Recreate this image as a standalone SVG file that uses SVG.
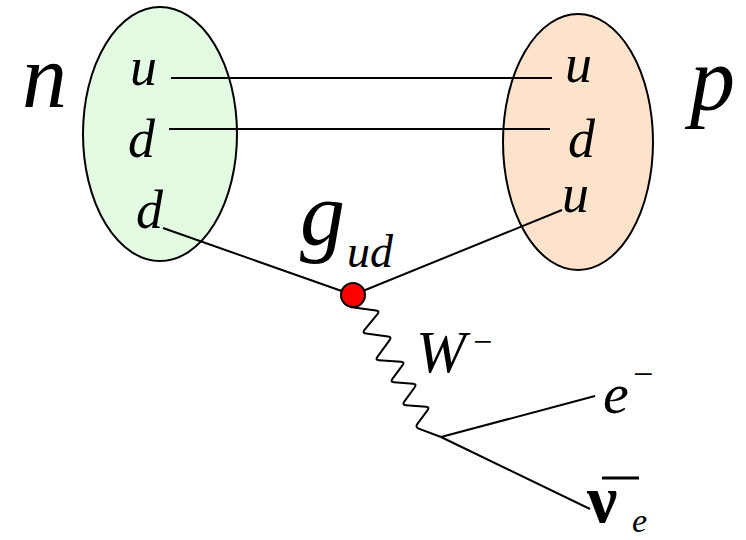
<svg xmlns="http://www.w3.org/2000/svg" width="746" height="540" viewBox="0 0 746 540">
<style>
text{font-family:'Liberation Serif',serif;fill:#000}
.it{font-style:italic}
.ln{stroke:#000;stroke-width:2;fill:none}
.q{font-size:54px}
</style>
<rect width="746" height="540" fill="#fff"/>
<g id="neutron">
<ellipse cx="160" cy="134" rx="77" ry="127" fill="#e2fbe2" stroke="#000" stroke-width="2"/>
<text class="it" x="22" y="107" font-size="90">n</text>
<text class="it q" x="130" y="85">u</text>
<text class="it q" x="128" y="157">d</text>
<text class="it q" x="136" y="228">d</text>
</g>
<g id="proton">
<ellipse cx="578" cy="142" rx="75" ry="128" fill="#fde3cb" stroke="#000" stroke-width="2"/>
<text class="it" x="690" y="110" font-size="90">p</text>
<text class="it q" x="565" y="82">u</text>
<text class="it q" x="568" y="157">d</text>
<text class="it q" x="562" y="212">u</text>
</g>
<g id="connectors">
<line class="ln" x1="171" y1="78" x2="552" y2="78"/>
<line class="ln" x1="169" y1="129" x2="550" y2="129"/>
<line class="ln" x1="163" y1="228" x2="353" y2="295"/>
<line class="ln" x1="562" y1="210" x2="353" y2="295"/>
<path class="ln" stroke-linejoin="round" d="M350,307 L376,310.5 Q380,311 377.5,314.1 L364.5,329.9 Q362,333 366,333.5 L388,336.5 Q392,337 389.6,340.2 L377.4,356.8 Q375,360 379,360.3 L401,361.7 Q405,362 402.6,365.2 L392.4,378.8 Q390,382 394,382.3 L413,383.7 Q417,384 414.7,387.3 L404.3,401.7 Q402,405 406,405.3 L426,406.7 Q430,407 427.6,410.2 L417.4,423.8 Q415,427 418.7,428.6 L441,437"/>
<line class="ln" x1="441" y1="437" x2="595" y2="396"/>
<line class="ln" x1="441" y1="437" x2="590" y2="509"/>
</g>
<g id="vertex">
<circle cx="353" cy="295" r="12" fill="#ff0000" stroke="#000" stroke-width="2"/>
<text class="it" x="300" y="245" font-size="90">g</text>
<text class="it" x="347" y="267" font-size="46">ud</text>
</g>
<g id="W">
<text class="it" x="416" y="372" font-size="60">W</text>
<text x="473" y="353" font-size="34">−</text>
</g>
<g id="electron">
<text class="it" x="603" y="413" font-size="58">e</text>
<text x="633" y="386" font-size="36">−</text>
</g>
<g id="antineutrino">
<text x="587" y="522" font-size="68" font-weight="bold">ν</text>
<line x1="602" y1="478" x2="639" y2="478" stroke="#000" stroke-width="3"/>
<text class="it" x="632" y="532" font-size="34">e</text>
</g>
</svg>
